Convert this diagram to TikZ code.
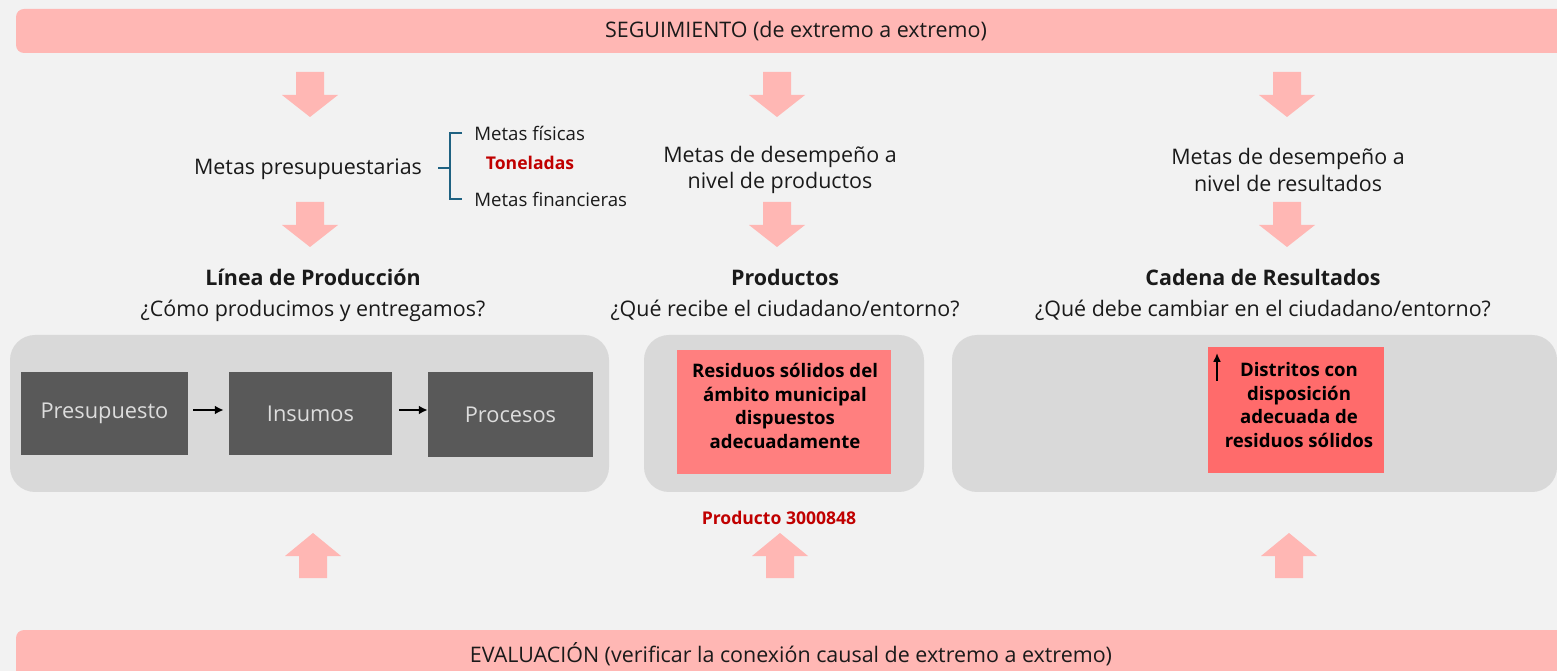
\documentclass[tikz,border=0pt]{standalone}
\usepackage{fontspec}
\setmainfont{Open Sans}
\usetikzlibrary{arrows.meta}
\definecolor{bg}{HTML}{F2F2F2}
\definecolor{barpink}{HTML}{FFB7B4}
\definecolor{boxgray}{HTML}{D9D9D9}
\definecolor{darkbox}{HTML}{595959}
\definecolor{lighttext}{HTML}{DDDDDD}
\definecolor{prodred}{HTML}{FF7F7F}
\definecolor{resred}{HTML}{FF6B6B}
\definecolor{darkred}{HTML}{C00000}
\definecolor{bracketblue}{HTML}{1F6282}
\definecolor{txt}{HTML}{1A1A1A}
\tikzset{
  downarr/.pic={\fill[barpink] (-14,0) -- (14,0) -- (14,23) -- (28,23) -- (0,45) -- (-28,23) -- (-14,23) -- cycle;},
  uparr/.pic={\fill[barpink] (0,0) -- (28,23) -- (14,23) -- (14,45) -- (-14,45) -- (-14,23) -- (-28,23) -- cycle;},
  maintext/.style={text=txt, font=\fontsize{12.2pt}{15pt}\selectfont, inner sep=0pt, align=center},
  headtext/.style={text=txt, font=\fontsize{12.2pt}{17.5pt}\selectfont, inner sep=0pt, align=center},
  smalltext/.style={text=txt, font=\fontsize{10.6pt}{12pt}\selectfont, inner sep=0pt},
  redlabel/.style={text=darkred, font=\bfseries\fontsize{10pt}{12pt}\selectfont, inner sep=0pt},
  grayarea/.style={fill=boxgray, rounded corners=0.5cm},
  stepbox/.style={fill=darkbox, text=lighttext, font=\fontsize{12.4pt}{14pt}\selectfont, inner sep=0pt, minimum height=1.66cm},
  redbox/.style={text=black, font=\bfseries\fontsize{10.6pt}{13.6pt}\selectfont, align=center, inner sep=0pt},
  smallarrow/.style={-{Latex[length=5pt,width=5pt]}, line width=1pt, black},
}
\begin{document}
\begin{tikzpicture}[x=0.02cm,y=-0.02cm]
\useasboundingbox (0,0) rectangle (1557,671);
\fill[bg] (0,0) rectangle (1557,671);

% bars
\fill[barpink, rounded corners=0.16cm] (16,9) rectangle (1600,53);
\fill[barpink, rounded corners=0.16cm] (16,630) rectangle (1600,700);
\node[maintext] (seg) at (796,31) {SEGUIMIENTO (de extremo a extremo)};
\node[maintext] (eva) at (791,654) {EVALUACIÓN (verificar la conexión causal de extremo a extremo)};

% down arrows
\pic at (310,72) {downarr};
\pic at (777,72) {downarr};
\pic at (1287,72) {downarr};
\pic at (310,202) {downarr};
\pic at (777,202) {downarr};
\pic at (1287,202) {downarr};
% up arrows
\pic at (313,533) {uparr};
\pic at (780,533) {uparr};
\pic at (1289,533) {uparr};

% metas
\node[maintext] (mp) at (308,169) {Metas presupuestarias};
\draw[bracketblue, line width=1.1pt] (438,168) -- (450,168);
\draw[bracketblue, line width=1.1pt] (462,133) -- (450,133) -- (450,199) -- (462,199);
\node[smalltext, anchor=west] (mf) at (474,133) {Metas físicas};
\node[redlabel] (ton) at (530,163) {Toneladas};
\node[smalltext, anchor=west] (mfin) at (474,199) {Metas financieras};
\node[maintext] (mdp) at (780,170) {Metas de desempeño a\\nivel de productos};
\node[maintext] (mdr) at (1288,170) {Metas de desempeño a\\nivel de resultados};

% headings
\node[headtext] (h1) at (313,295) {\textbf{Línea de Producción}\\¿Cómo producimos y entregamos?};
\node[headtext] (h2) at (785,295) {\textbf{Productos}\\¿Qué recibe el ciudadano/entorno?};
\node[headtext] (h3) at (1263,295) {\textbf{Cadena de Resultados}\\¿Qué debe cambiar en el ciudadano/entorno?};

% gray areas
\fill[grayarea] (10,335) rectangle (609,492);
\fill[grayarea] (644,335) rectangle (924,492);
\fill[grayarea] (952,335) rectangle (1557,492);

% production line
\node[stepbox, minimum width=3.34cm] (pres) at (104.5,413.5) {Presupuesto};
\node[stepbox, minimum width=3.26cm] (ins) at (310.5,413.5) {Insumos};
\node[stepbox, minimum width=3.3cm, minimum height=1.7cm] (proc) at (510.5,414.5) {Procesos};
\draw[smallarrow, shorten <=5*0.02cm, shorten >=5*0.02cm] ([yshift=0.07cm]pres.east) -- ([yshift=0.07cm]ins.west);
\draw[smallarrow, shorten <=7*0.02cm] ([yshift=0.07cm]ins.east) -- ([yshift=0.07cm]ins.east -| proc.west);

% product
\node[fill=prodred, minimum width=4.28cm, minimum height=2.48cm, inner sep=0pt] (prod) at (784,412) {};
\node[redbox] (prodtext) at (785,406) {Residuos sólidos del\\ámbito municipal\\dispuestos\\adecuadamente};
\node[redlabel] (pcode) at (779,518) {Producto 3000848};

% result
\node[fill=resred, minimum width=3.52cm, minimum height=2.52cm, inner sep=0pt] (res) at (1296,410) {};
\node[redbox] (restext) at (1299,405) {Distritos con\\disposición\\adecuada de\\residuos sólidos};
\coordinate (upS) at (1217,381);
\coordinate (upE) at (1217,353);
\draw[-{Latex[length=5pt,width=4.5pt]}, line width=1pt] (upS) -- (upE);
\end{tikzpicture}
\end{document}
